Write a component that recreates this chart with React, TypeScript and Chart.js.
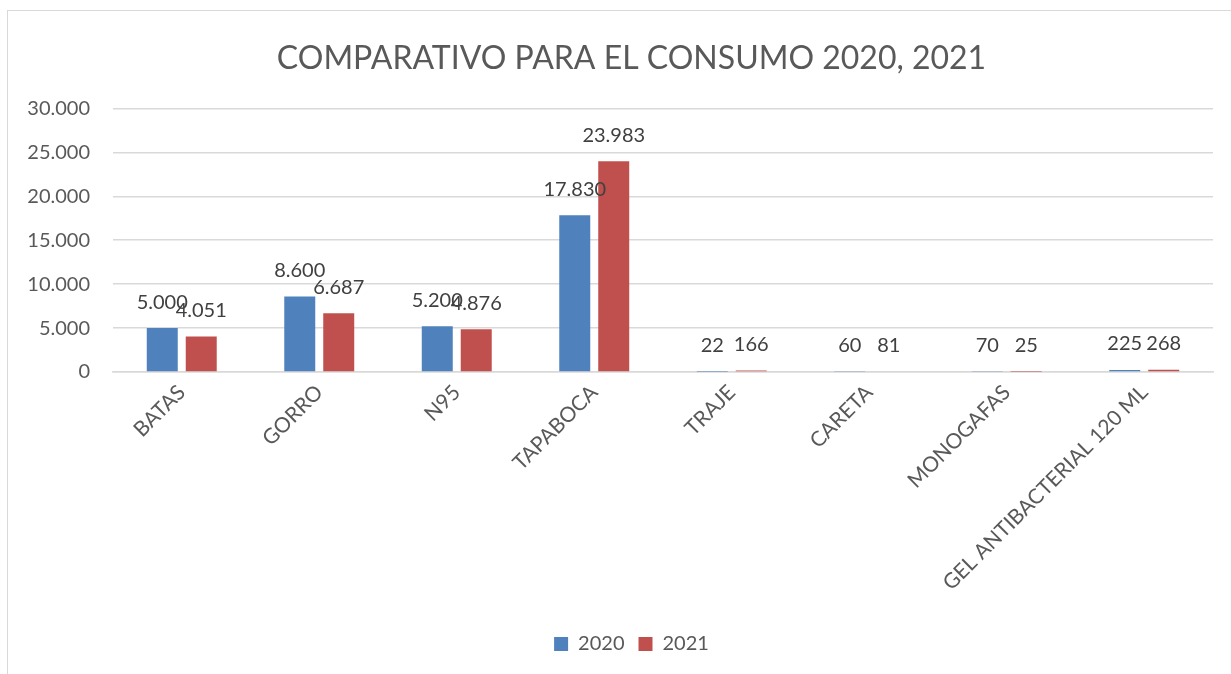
import React, { useEffect, useRef } from "react";
import { Chart, registerables } from "chart.js";

Chart.register(...registerables);

const categories = [
  "BATAS",
  "GORRO",
  "N95",
  "TAPABOCA",
  "TRAJE",
  "CARETA",
  "MONOGAFAS",
  "GEL ANTIBACTERIAL 120 ML",
];
const values2020 = [5000, 8600, 5200, 17830, 22, 60, 70, 225];
const values2021 = [4051, 6687, 4876, 23983, 166, 81, 25, 268];
const seriesNames = ["2020", "2021"];
const titleText = "COMPARATIVO PARA EL CONSUMO 2020, 2021";
const yMax = 30000;
const yStep = 5000;

const FONT = "Lato, 'Open Sans', sans-serif";
const PAD_LEFT = 50;

function fmt(n: number): string {
  return Math.round(n)
    .toString()
    .replace(/\B(?=(\d{3})+(?!\d))/g, ".");
}

const dataLabels = {
  id: "dataLabels",
  afterDatasetsDraw(chart: any) {
    const ctx = chart.ctx;
    ctx.save();
    ctx.font = `20px ${FONT}`;
    ctx.fillStyle = "#404040";
    ctx.textAlign = "center";
    ctx.textBaseline = "middle";
    chart.data.datasets.forEach((ds: any, i: number) => {
      const meta = chart.getDatasetMeta(i);
      meta.data.forEach((bar: any, j: number) => {
        ctx.fillText(fmt(ds.data[j]), bar.x, bar.y - 26);
      });
    });
    ctx.restore();
  },
};

export default function App() {
  const ref = useRef<HTMLCanvasElement>(null);

  useEffect(() => {
    if (!ref.current) return;
    const chart = new Chart(ref.current, {
      type: "bar",
      data: {
        labels: categories,
        datasets: [
          {
            label: seriesNames[0],
            data: values2020,
            backgroundColor: "#4F81BD",
            categoryPercentage: 0.567,
            barPercentage: 0.795,
          },
          {
            label: seriesNames[1],
            data: values2021,
            backgroundColor: "#C0504D",
            categoryPercentage: 0.567,
            barPercentage: 0.795,
          },
        ],
      },
      options: {
        animation: false,
        responsive: false,
        maintainAspectRatio: false,
        layout: {
          padding: { left: PAD_LEFT, right: 18, top: 10, bottom: 10 },
        },
        plugins: {
          title: {
            display: true,
            text: titleText,
            color: "#595959",
            font: { family: FONT, size: 32, weight: "normal" },
            padding: { top: 29, bottom: 31 },
          },
          legend: {
            position: "bottom",
            labels: {
              color: "#595959",
              font: { family: FONT, size: 20 },
              boxWidth: 14,
              boxHeight: 14,
              padding: 14,
            },
          },
          tooltip: { enabled: false },
        },
        scales: {
          x: {
            grid: { display: false, drawTicks: false },
            border: { display: true, color: "#D9D9D9", width: 1.5 },
            ticks: {
              color: "#595959",
              font: { family: FONT, size: 21 },
              minRotation: 45,
              maxRotation: 45,
              autoSkip: false,
              padding: 8,
            },
            afterFit(scale: any) {
              scale.height = 248;
            },
          },
          y: {
            min: 0,
            max: yMax,
            grid: { color: "#D9D9D9", lineWidth: 1.5, drawTicks: false },
            border: { display: false },
            ticks: {
              stepSize: yStep,
              color: "#595959",
              font: { family: FONT, size: 20 },
              padding: 23,
              callback: (v: any) => fmt(Number(v)),
            },
            afterFit(scale: any) {
              scale.width = 113 - PAD_LEFT;
              scale._computeLabelArea = () => undefined;
            },
          },
        },
      },
      plugins: [dataLabels],
    });
    return () => chart.destroy();
  }, []);

  return (
    <div
      style={{
        position: "fixed",
        left: 0,
        top: 0,
        width: 1231,
        height: 674,
        overflow: "hidden",
        background: "#fff",
      }}
    >
      <div
        style={{
          position: "absolute",
          left: 7,
          top: 10,
          width: 1400,
          height: 800,
          border: "1.5px solid #D9D9D9",
        }}
      />
      <canvas
        ref={ref}
        width={1231}
        height={674}
        style={{ position: "absolute", left: 0, top: 0 }}
      />
    </div>
  );
}
